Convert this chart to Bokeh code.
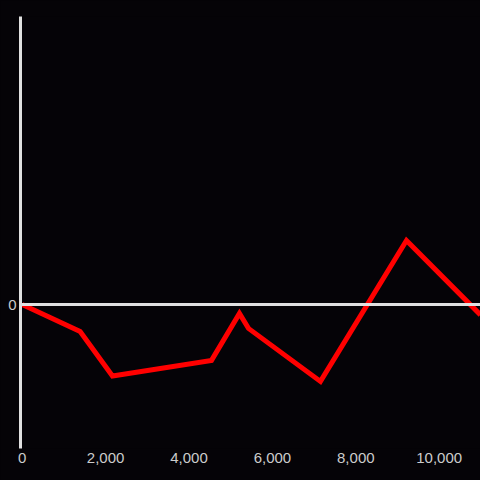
from bokeh.plotting import figure
from bokeh.models import Range1d, FixedTicker, NumeralTickFormatter, Span
from bokeh.embed import file_html
from bokeh.resources import INLINE

# data
xs = [0, 1390, 2165, 4540, 5210, 5426, 7153, 9215, 10990]
ys = [0, -9.4, -24.8, -19.4, -3.1, -8.3, -26.7, 22.2, -3.6]
x_ticks = [0, 2000, 4000, 6000, 8000, 10000]
y_ticks = [0]

BG = "#050307"
AX = "#e0e0e0"
LBL = "#cccccc"

p = figure(width=480, height=480, output_backend="svg", toolbar_location=None,
           x_range=Range1d(-40, 10990), y_range=Range1d(-50, 100),
           min_border_left=20, min_border_right=0, min_border_top=16, min_border_bottom=32)
p.background_fill_color = BG
p.border_fill_color = BG
p.outline_line_color = None
p.grid.visible = False
p.styles = {"background-color": BG}

zero = Span(location=0, dimension="width", line_color=AX, line_width=3)
p.add_layout(zero)

p.line(xs, ys, line_color="#ff0000", line_width=5, line_join="miter")

xa = p.xaxis[0]
xa.ticker = FixedTicker(ticks=x_ticks)
xa.formatter = NumeralTickFormatter(format="0,0")
xa.axis_line_color = None
xa.major_tick_line_color = None
xa.minor_tick_line_color = None
xa.major_tick_out = 0
xa.major_tick_in = 0
xa.major_label_standoff = 4
xa.major_label_text_color = LBL
xa.major_label_text_font = "Liberation Sans"
xa.major_label_text_font_size = "15px"

ya = p.yaxis[0]
ya.ticker = FixedTicker(ticks=y_ticks)
ya.axis_line_color = AX
ya.axis_line_width = 3
ya.major_tick_line_color = None
ya.minor_tick_line_color = None
ya.major_tick_out = 0
ya.major_tick_in = 0
ya.major_label_standoff = 4
ya.major_label_text_color = LBL
ya.major_label_text_font = "Liberation Sans"
ya.major_label_text_font_size = "15px"

open("out.html", "w").write(file_html(p, INLINE))
